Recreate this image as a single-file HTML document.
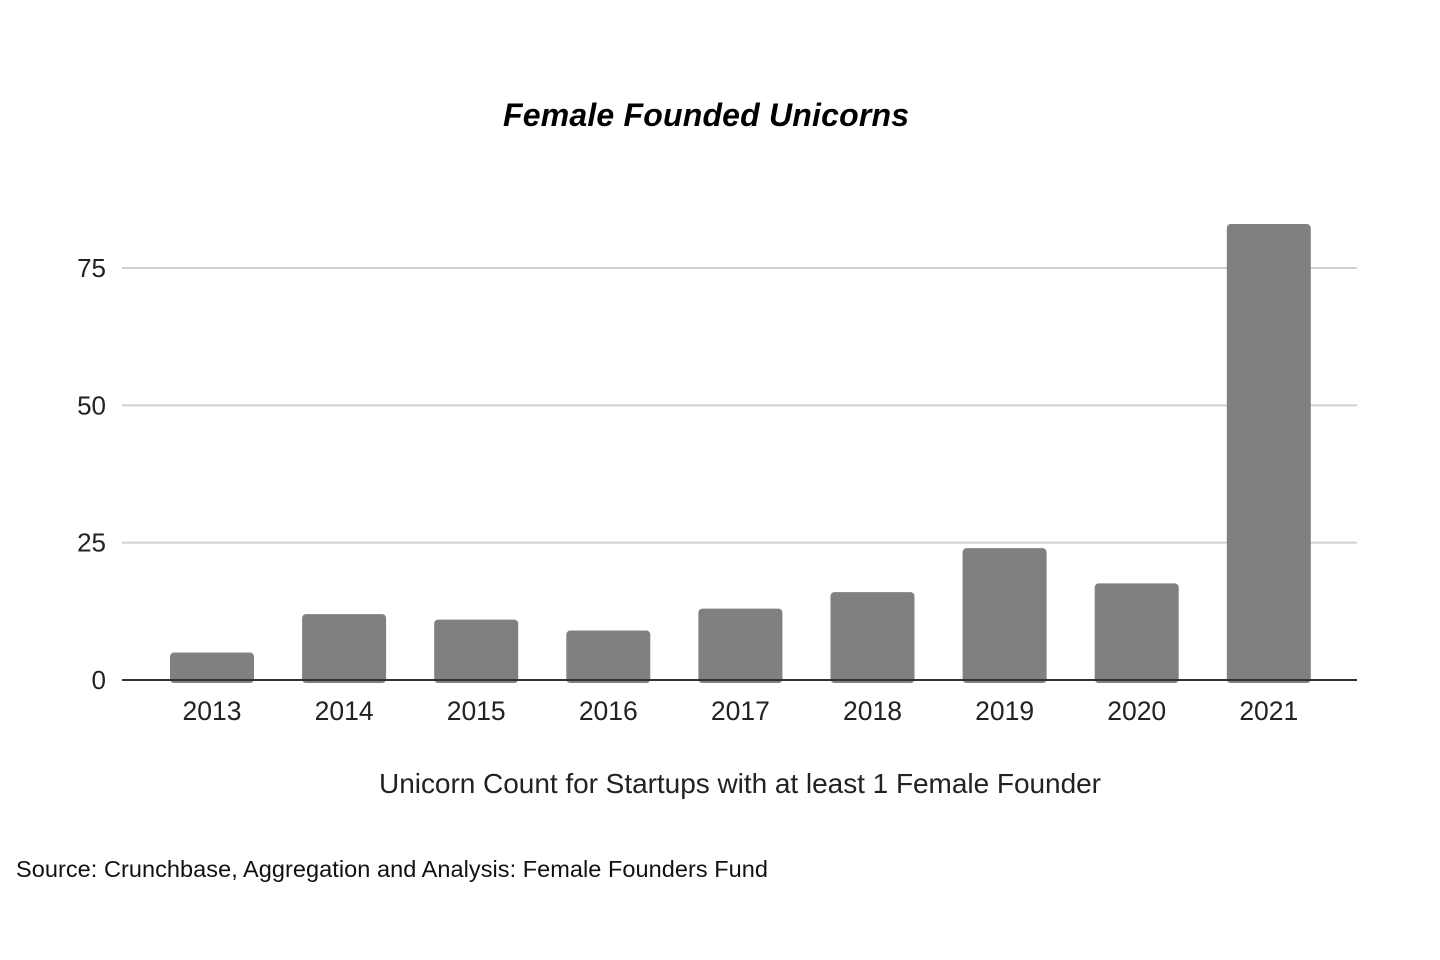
<!DOCTYPE html>
<html><head><meta charset="utf-8"><style>
html,body{margin:0;padding:0;background:#fff;width:1440px;height:960px;overflow:hidden;font-family:"Liberation Sans",Arial,sans-serif}
</style></head><body>
<svg width="1440" height="960" viewBox="0 0 1440 960">
<text x="706" y="126" text-anchor="middle" font-size="32" font-weight="bold" font-style="italic" fill="#000" textLength="406">Female Founded Unicorns</text>
<g id="grid"></g>
<g id="bars"></g>
<line x1="122" x2="1357" y1="680" y2="680" stroke="#333" stroke-width="2"/>
<g id="xlabels"></g>
<text x="740" y="793" text-anchor="middle" font-size="28" fill="#222" textLength="722">Unicorn Count for Startups with at least 1 Female Founder</text>
<text x="16" y="877" font-size="23.5" fill="#111" textLength="752">Source: Crunchbase, Aggregation and Analysis: Female Founders Fund</text>
</svg>
<script>
const categories=["2013","2014","2015","2016","2017","2018","2019","2020","2021"];
const values=[5,12,11,9,13,16,24,17.6,83];
const yTicks=[0,25,50,75];
const NS="http://www.w3.org/2000/svg";
function y(v){return 680-v*(412/75);}
function xc(i){return 212+i*132.1;}
const grid=document.getElementById('grid');
yTicks.forEach(t=>{
  if(t>0){const l=document.createElementNS(NS,'line');
  l.setAttribute('x1',122);l.setAttribute('x2',1357);l.setAttribute('y1',y(t));l.setAttribute('y2',y(t));
  l.setAttribute('stroke','#d0d0d0');l.setAttribute('stroke-width','2');
  
  
  grid.appendChild(l);}
  const tx=document.createElementNS(NS,'text');
  tx.setAttribute('x',106);tx.setAttribute('y',y(t)+9);tx.setAttribute('text-anchor','end');
  tx.setAttribute('font-size','26');tx.setAttribute('fill','#222');tx.textContent=t;
  
  
  grid.appendChild(tx);
});
const bars=document.getElementById('bars'),xl=document.getElementById('xlabels');
categories.forEach((c,i)=>{
  const r=document.createElementNS(NS,'rect');
  const top=y(values[i]);
  r.setAttribute('x',xc(i)-42);r.setAttribute('width',84);
  r.setAttribute('y',top);r.setAttribute('height',680-top+3);
  r.setAttribute('rx',4);r.setAttribute('fill','#808080');
  
  
  bars.appendChild(r);
  const t=document.createElementNS(NS,'text');
  t.setAttribute('x',xc(i));t.setAttribute('y',720);t.setAttribute('text-anchor','middle');
  t.setAttribute('font-size','26.5');t.setAttribute('fill','#222');t.textContent=c;
  
  
  xl.appendChild(t);
});
</script>
</body></html>
